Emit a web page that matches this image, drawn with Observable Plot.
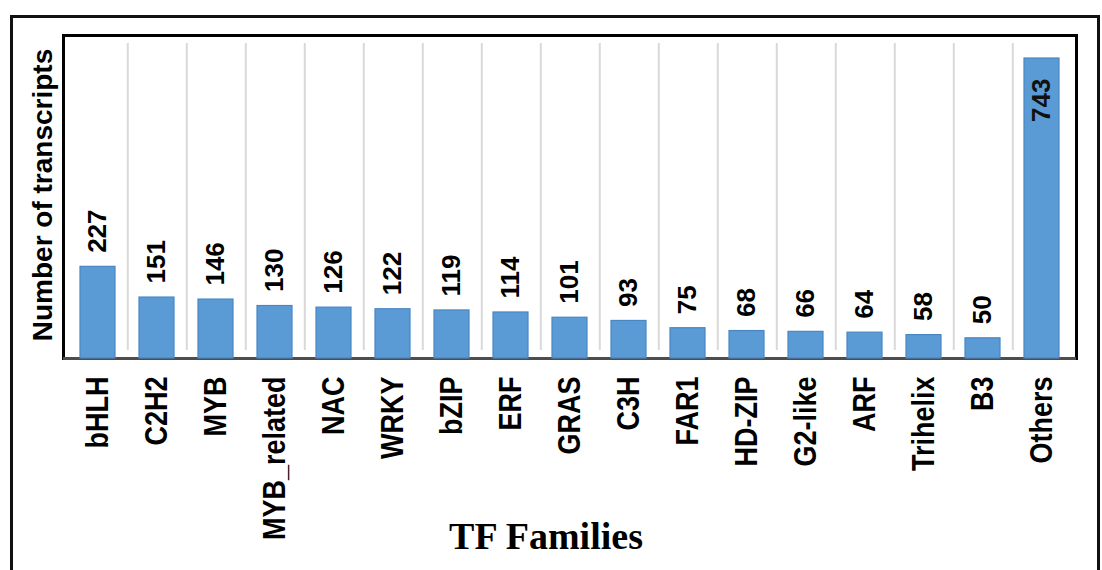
<!DOCTYPE html>
<html><head><meta charset="utf-8">
<script src="https://cdn.jsdelivr.net/npm/d3@7"></script>
<script src="https://cdn.jsdelivr.net/npm/@observablehq/plot@0.6"></script>
<style>
html,body{margin:0;padding:0;background:#fff;width:1102px;height:570px;overflow:hidden;}
#chart{position:absolute;left:0;top:0;}
#border{position:absolute;left:10px;top:15px;width:1084px;height:640px;border:3px solid #111;pointer-events:none;}
</style></head><body>
<div id="chart"></div><div id="border"></div>
<script>
const families = ["bHLH","C2H2","MYB","MYB_related","NAC","WRKY","bZIP","ERF","GRAS","C3H","FAR1","HD-ZIP","G2-like","ARF","Trihelix","B3","Others"];
const transcripts = [227,151,146,130,126,122,119,114,101,93,75,68,66,64,58,50,743];
const yTitle = "Number of transcripts";
const xTitle = "TF Families";

const data = families.map((f, i) => ({family: f, count: transcripts[i]}));
const W = 1102, H = 570, ML = 63, MR = 26, MT = 35, MB = 212;
const step = (W - ML - MR) / families.length;
const outside = data.filter(d => d.family !== "Others");
const inside = data.filter(d => d.family === "Others");

const plot = Plot.plot({
  width: W, height: H,
  marginLeft: ML, marginRight: MR, marginTop: MT, marginBottom: MB,
  style: {fontFamily: "Liberation Sans, Arial, sans-serif", background: "transparent", overflow: "visible", color: "#000"},
  x: {domain: families, paddingInner: 0.4, paddingOuter: 0.2, label: null},
  y: {domain: [0, 800], axis: null},
  marks: [
    Plot.ruleX(families.slice(0, -1), {x: d => d, dx: step / 2, stroke: "#d9d9d9", strokeWidth: 2, insetTop: 8, insetBottom: 8}),
    Plot.frame({stroke: "#000", strokeWidth: 3}),
    Plot.ruleY([0], {stroke: "#4d4d4d", strokeWidth: 3}),
    Plot.barY(data, {x: "family", y: "count", fill: "#5b9bd5", stroke: "#4a86c4", strokeWidth: 1.2}),
    Plot.text(outside, {x: "family", y: "count", text: d => String(d.count), rotate: -90, textAnchor: "start", dy: -14, fontSize: 26, fontWeight: "bold", fill: "#000", ariaLabel: "value"}),
    Plot.text(inside, {x: "family", y: "count", text: d => String(d.count), rotate: -90, textAnchor: "end", dy: 20, fontSize: 26, fontWeight: "bold", fill: "#111", ariaLabel: "value"}),
    Plot.axisX({tickSize: 0, tickPadding: 18, tickRotate: -90, fontSize: 27, fontWeight: "bold", label: null}),
    Plot.text([yTitle], {frameAnchor: "left", textAnchor: "middle", dx: -20, dy: -2, rotate: -90, fontSize: 28, fontWeight: "bold", fill: "#000"}),
    Plot.text([xTitle], {frameAnchor: "bottom", textAnchor: "middle", dx: -24, dy: 190, fontSize: 38, fontWeight: "bold", fontFamily: "Liberation Serif, Times New Roman, serif", fill: "#000"})
  ]
});
document.getElementById("chart").appendChild(plot);

// widen glyphs across the rotated text (as in the reference)
d3.select(plot).selectAll('g[aria-label="x-axis tick label"] text, g[aria-label="value"] text').each(function () {
  const t = this.getAttribute("transform");
  if (t && t.includes("rotate")) this.setAttribute("transform", t + " scale(1,1.15)");
});
</script>
</body></html>
